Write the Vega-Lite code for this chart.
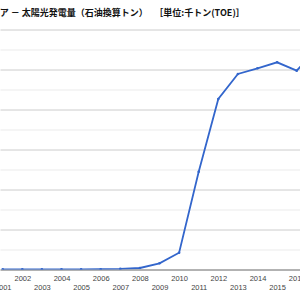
{
  "$schema": "https://vega.github.io/schema/vega-lite/v6.json",
  "width": 300,
  "height": 240,
  "autosize": "none",
  "padding": {"left": 0, "top": 29.5, "right": 0, "bottom": 30.5},
  "background": "white",
  "title": {
    "text": "イタリア － 太陽光発電量（石油換算トン）　 ［単位:千トン(TOE)］",
    "anchor": "start",
    "frame": "group",
    "dx": -27,
    "offset": 11.5,
    "font": "Noto Sans CJK JP",
    "fontSize": 9,
    "fontWeight": "bold",
    "color": "#111111"
  },
  "data": {
    "values": [
      {"year": 2001, "value": 1},
      {"year": 2002, "value": 1},
      {"year": 2003, "value": 1},
      {"year": 2004, "value": 2},
      {"year": 2005, "value": 2},
      {"year": 2006, "value": 3},
      {"year": 2007, "value": 6},
      {"year": 2008, "value": 15},
      {"year": 2009, "value": 62},
      {"year": 2010, "value": 168},
      {"year": 2011, "value": 978},
      {"year": 2012, "value": 1705},
      {"year": 2013, "value": 1955},
      {"year": 2014, "value": 2012},
      {"year": 2015, "value": 2072},
      {"year": 2016, "value": 1988},
      {"year": 2017, "value": 2200}
    ]
  },
  "mark": {
    "type": "line",
    "color": "#3366cc",
    "strokeWidth": 1.8,
    "clip": true,
    "point": {"filled": true, "size": 7, "color": "#3366cc"}
  },
  "encoding": {
    "x": {
      "field": "year",
      "type": "quantitative",
      "scale": {"domain": [2000.862, 2016.168], "nice": false, "zero": false},
      "axis": {
        "values": [2001, 2002, 2003, 2004, 2005, 2006, 2007, 2008, 2009, 2010, 2011, 2012, 2013, 2014, 2015, 2016],
        "format": "d",
        "title": null,
        "grid": false,
        "ticks": false,
        "domain": true,
        "domainColor": "#666666",
        "domainWidth": 1,
        "labelFont": "Liberation Sans",
        "labelFontSize": 7.5,
        "labelColor": "#444444",
        "labelPadding": {"condition": {"test": "datum.value % 2 === 0", "value": 4.5}, "value": 13.9},
        "labelOverlap": false,
        "labelFlush": false,
        "labelBound": false
      }
    },
    "y": {
      "field": "value",
      "type": "quantitative",
      "scale": {"domain": [0, 2400], "nice": false},
      "axis": {
        "values": [200, 400, 600, 800, 1000, 1200, 1400, 1600, 1800, 2000, 2200, 2400],
        "title": null,
        "labels": false,
        "ticks": false,
        "domain": false,
        "grid": true,
        "gridColor": {"condition": {"test": "datum.value % 400 === 0", "value": "#cccccc"}, "value": "#ebebeb"},
        "gridWidth": 1
      }
    }
  },
  "config": {"view": {"stroke": null}}
}
